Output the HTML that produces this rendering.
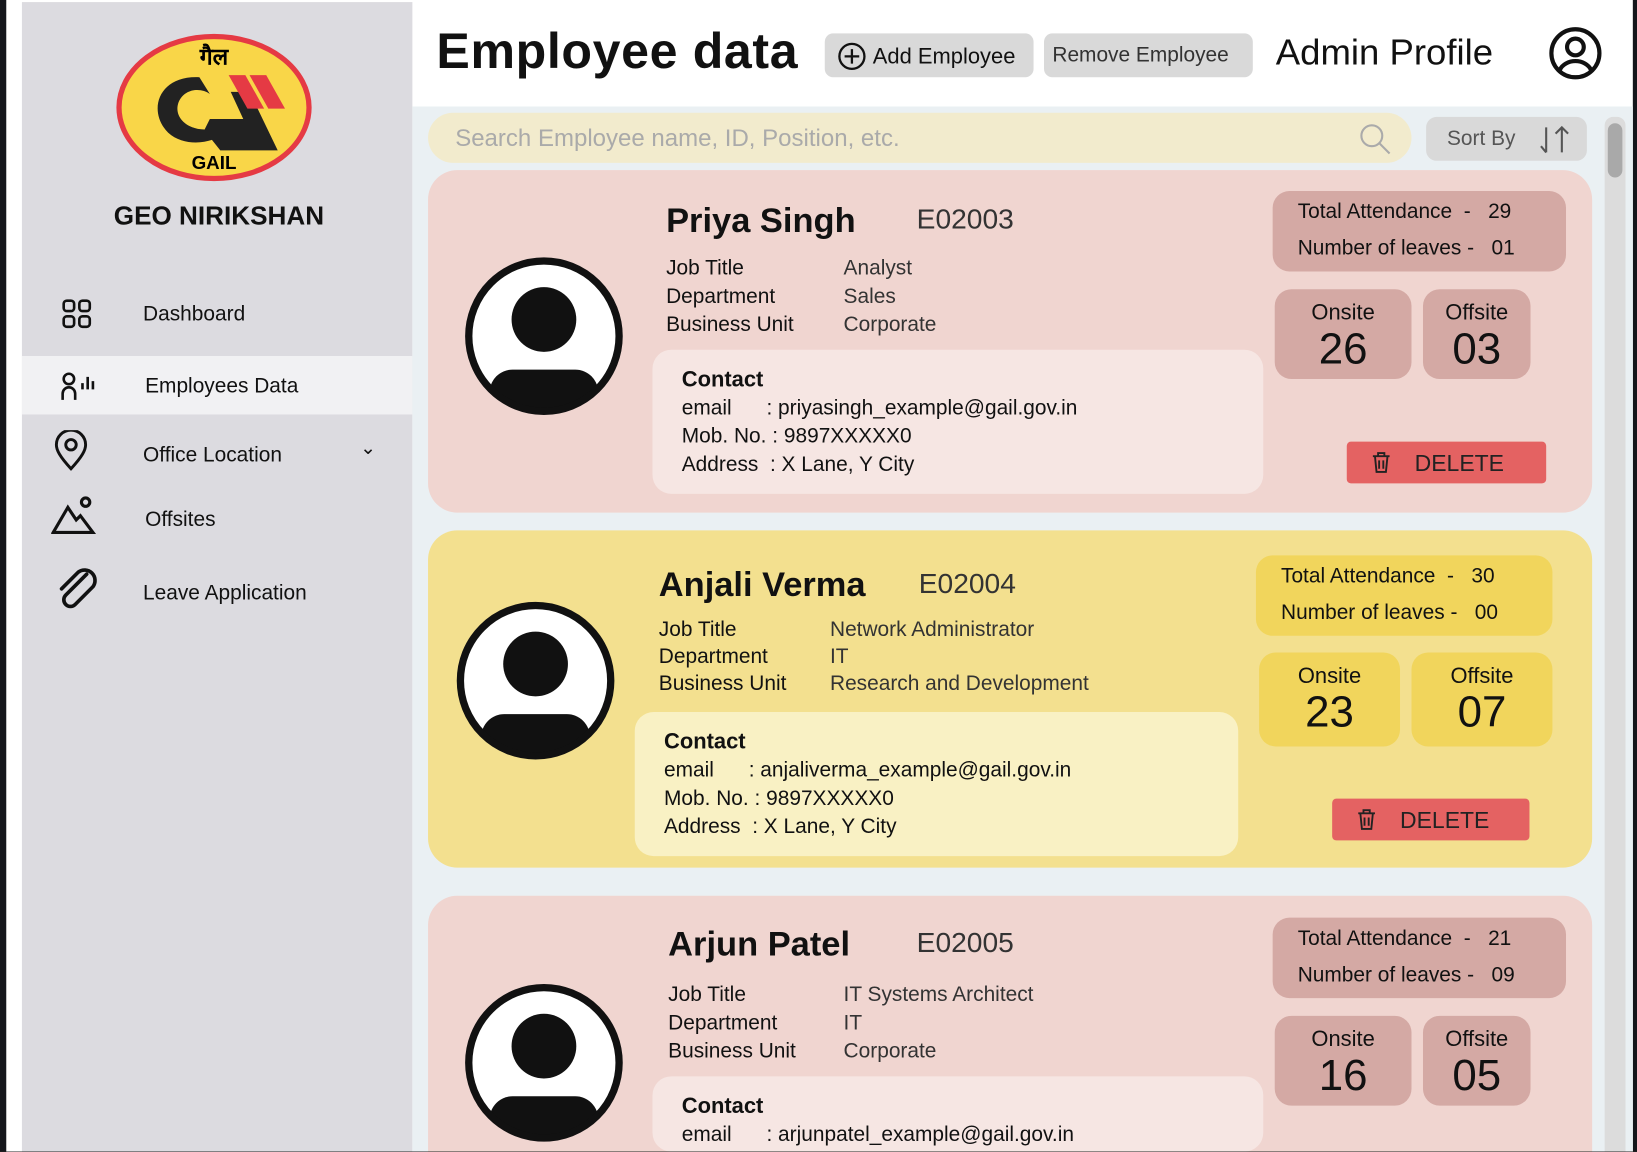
<!DOCTYPE html>
<html><head><meta charset="utf-8">
<style>
html,body{margin:0;padding:0;width:1637px;height:1152px;overflow:hidden;background:#111;}
#stage{position:absolute;left:0;top:0;width:1568px;height:1103px;overflow:hidden;transform:scale(1.04401);transform-origin:0 0;background:#fff;font-family:"Liberation Sans",sans-serif;color:#111;}
.a{position:absolute;}
.t{position:absolute;white-space:nowrap;line-height:1;}
</style></head><body>
<div id="stage">
<div class="a" style="left:0;top:0;width:6px;height:1103px;background:#15161b"></div>
<div class="a" style="left:1564px;top:0;width:4px;height:1103px;background:#15161b"></div>
<!-- sidebar -->
<div class="a" style="left:21px;top:2px;width:374px;height:1101px;background:#dcdbe0">
 <svg class="a" style="left:90px;top:30px" width="190" height="145">
  <ellipse cx="94" cy="71" rx="91" ry="68" fill="#f9d648" stroke="#e53a44" stroke-width="5"/>
  <text x="94" y="30" font-size="22" font-weight="bold" text-anchor="middle" font-family="Liberation Sans, sans-serif">गैल</text>
  <path d="M80 42 C40 40 30 75 50 95 C62 106 80 106 92 102 L100 112 L155 112 L128 56 L110 56 L122 82 L90 82 L85 92 C68 92 55 80 60 66 C66 52 82 52 90 58 Z" fill="#222"/>
  <polygon points="108,40 124,40 142,72 126,72" fill="#e53a44"/><polygon points="128,40 144,40 162,72 146,72" fill="#e53a44"/>
  <text x="94" y="130" font-size="18" font-weight="bold" text-anchor="middle" font-family="Liberation Sans, sans-serif">GAIL</text>
 </svg>
 <div class="t" style="left:88px;top:193px;font-size:25px;font-weight:bold">GEO NIRIKSHAN</div>
 <div class="a" style="left:0;top:339px;width:374px;height:56px;background:#f1f1f3"></div>
 <div class="a" style="left:0;top:270px;width:374px;height:330px">
  <div class="a" style="left:0;top:0;width:374px;height:56px">
   <svg class="a" style="left:38px;top:14px" width="30" height="30"><g fill="none" stroke="#111" stroke-width="2.5"><rect x="2" y="2" width="10" height="10" rx="3"/><rect x="17" y="2" width="10" height="10" rx="3"/><rect x="2" y="17" width="10" height="10" rx="3"/><rect x="17" y="17" width="10" height="10" rx="3"/></g></svg>
   <div class="t" style="left:116px;top:19px;font-size:20px">Dashboard</div></div>
  <div class="a" style="left:0;top:69px;width:374px;height:56px">
   <svg class="a" style="left:36px;top:14px" width="36" height="30"><g fill="none" stroke="#111" stroke-width="2.5"><circle cx="9" cy="8" r="5"/><path d="M3 28 V22 a6 6 0 0 1 12 0 V28"/><path d="M22 12 V18 M27 6 V18 M32 10 V18"/></g></svg>
   <div class="t" style="left:118px;top:19px;font-size:20px">Employees Data</div></div>
  <div class="a" style="left:0;top:134px;width:374px;height:56px">
   <svg class="a" style="left:30px;top:6px" width="34" height="40"><g fill="none" stroke="#111" stroke-width="2.8"><path d="M17 37 C6 25 3 19 3 14 a14 14 0 0 1 28 0 c0 5 -3 11 -14 23z"/><circle cx="17" cy="14" r="5"/></g></svg>
   <div class="t" style="left:116px;top:20px;font-size:20px">Office Location</div>
   <div class="t" style="left:324px;top:14px;font-size:18px">⌄</div></div>
  <div class="a" style="left:0;top:196px;width:374px;height:56px">
   <svg class="a" style="left:28px;top:6px" width="44" height="40"><g fill="none" stroke="#111" stroke-width="3"><path d="M2 36 L16 12 L24 24 L28 20 L40 36 Z"/><circle cx="33" cy="7" r="4"/></g></svg>
   <div class="t" style="left:118px;top:20px;font-size:20px">Offsites</div></div>
  <div class="a" style="left:0;top:266px;width:374px;height:56px">
   <svg class="a" style="left:32px;top:4px" width="44" height="46"><path d="M30 8 L10 28 a6 6 0 0 0 9 9 L36 20 a10 10 0 0 0 -14 -14 L6 22" fill="none" stroke="#111" stroke-width="3.5" stroke-linecap="round"/></svg>
   <div class="t" style="left:116px;top:20px;font-size:20px">Leave Application</div></div>
 </div>
</div>
<!-- header -->
<div class="t" style="left:418px;top:26px;font-size:48px;font-weight:bold;letter-spacing:0.6px">Employee data</div>
<div class="a" style="left:790px;top:32px;width:200px;height:42px;background:#d9d9d9;border-radius:8px">
 <svg class="a" style="left:12px;top:8px" width="28" height="28"><circle cx="14" cy="14" r="12" fill="none" stroke="#111" stroke-width="2.2"/><path d="M14 7v14M7 14h14" stroke="#111" stroke-width="2.2"/></svg>
 <div class="t" style="left:46px;top:12px;font-size:21px">Add Employee</div></div>
<div class="a" style="left:1000px;top:32px;width:200px;height:42px;background:#d9d9d9;border-radius:8px">
 <div class="t" style="left:8px;top:11px;font-size:20px;color:#333">Remove Employee</div></div>
<div class="t" style="left:1222px;top:33px;font-size:35px">Admin Profile</div>
<svg class="a" style="left:1482px;top:24px" width="54" height="54"><circle cx="27" cy="27" r="23" fill="none" stroke="#111" stroke-width="4"/><circle cx="27" cy="21" r="8" fill="none" stroke="#111" stroke-width="4"/><path d="M12 43 a16 13 0 0 1 30 0" fill="none" stroke="#111" stroke-width="4"/></svg>
<!-- content bg -->
<div class="a" style="left:395px;top:102px;width:1169px;height:1001px;background:#eaf0f3"></div>
<div class="a" style="left:410px;top:108px;width:942px;height:48px;background:#f2ebcd;border-radius:24px">
 <div class="t" style="left:26px;top:13px;font-size:23px;color:#aaa">Search Employee name, ID, Position, etc.</div>
 <svg class="a" style="left:890px;top:8px" width="34" height="34"><circle cx="14" cy="14" r="10" fill="none" stroke="#aaa" stroke-width="2"/><path d="M21 21l10 10" stroke="#aaa" stroke-width="2"/></svg></div>
<div class="a" style="left:1366px;top:112px;width:154px;height:42px;background:#d9d9d9;border-radius:10px">
 <div class="t" style="left:20px;top:11px;font-size:20px;color:#555">Sort By</div>
 <svg class="a" style="left:106px;top:6px" width="32" height="32"><path d="M9 4v24M4 22l5 6M24 28V4M18 10l6-6 6 6" fill="none" stroke="#555" stroke-width="2"/></svg></div>
<div class="a" style="left:1537px;top:112px;width:20px;height:991px;background:#dcdcdc;border-radius:8px 8px 0 0"></div>
<div class="a" style="left:1540px;top:118px;width:14px;height:52px;background:#a9a9a9;border-radius:7px"></div>
<div id="cards"></div>
</div>
<script>
const employees=[
 {name:"Priya Singh",id:"E02003",job:"Analyst",dept:"Sales",unit:"Corporate",email:"priyasingh_example@gail.gov.in",att:"29",leaves:"01",on:"26",off:"03"},
 {name:"Anjali Verma",id:"E02004",job:"Network Administrator",dept:"IT",unit:"Research and Development",email:"anjaliverma_example@gail.gov.in",att:"30",leaves:"00",on:"23",off:"07"},
 {name:"Arjun Patel",id:"E02005",job:"IT Systems Architect",dept:"IT",unit:"Corporate",email:"arjunpatel_example@gail.gov.in",att:"21",leaves:"09",on:"16",off:"05"}];
const cardTops=[163,508,858];
const themes=[
 {bg:"#f0d5d0",box:"#d4a9a4",contact:"#f6e6e3",L:{av:[521,159],name:[638,28],id:878,rows:[94,121,148],val:808,ct:[625,172,585,138],att:[1219,20,281,77],on:[1221,114,131,86],off:[1363,114,103,86],del:[1290,260,191,40]}},
 {bg:"#f3e08f",box:"#f1d55c",contact:"#f9f1c4",L:{av:[513,144],name:[631,32],id:880,rows:[95,121,147],val:795,ct:[608,174,578,138],att:[1203,24,284,77],on:[1206,117,135,90],off:[1352,117,135,90],del:[1276,257,189,40]}},
 {bg:"#f0d5d0",box:"#d4a9a4",contact:"#f6e6e3",L:{av:[521,160],name:[640,26],id:878,rows:[95,122,149],val:808,ct:[625,173,585,138],att:[1219,21,281,77],on:[1221,115,131,86],off:[1363,115,103,86],del:[1290,260,191,40]}}];
const root=document.getElementById('cards');
function el(tag,style,html,parent){const e=document.createElement(tag);e.className='a';e.style.cssText='line-height:1;'+style;if(html!=null)e.innerHTML=html;(parent||root).appendChild(e);return e;}
employees.forEach((emp,i)=>{
 const top=cardTops[i],th=themes[i],L=th.L;
 const h=i===2?245:(i===0?328:323);
 const rad=i===2?'28px 28px 0 0':'28px';
 const c=el('div',`left:410px;top:${top}px;width:1115px;height:${h}px;background:${th.bg};border-radius:${rad};overflow:hidden`);
 
 
 const o=(x)=>x-410;
 const av=el('div',`left:${o(L.av[0])-78}px;top:${L.av[1]-78}px;width:156px;height:156px`,`<svg width="156" height="156"><defs><clipPath id="cp${i}"><circle cx="78" cy="78" r="72"/></clipPath></defs><circle cx="78" cy="78" r="72" fill="#fff"/><g clip-path="url(#cp${i})"><circle cx="78" cy="62" r="31" fill="#111"/><rect x="26" y="110" width="104" height="60" rx="22" fill="#111"/></g><circle cx="78" cy="78" r="72" fill="none" stroke="#111" stroke-width="7"/></svg>`,c);
 
 
 const nm=el('div',`left:${o(L.name[0])}px;top:${L.name[1]+3}px;font-size:33px;font-weight:bold;white-space:nowrap`,emp.name,c);
 
 
 const idd=el('div',`left:${o(L.id)}px;top:${L.name[1]+6}px;font-size:27px;color:#333;white-space:nowrap`,emp.id,c);
 
 
 const labels=["Job Title","Department","Business Unit"],vals=[emp.job,emp.dept,emp.unit];
 labels.forEach((lb,k)=>{
  const a=el('div',`left:${o(L.name[0])}px;top:${L.rows[k]-10}px;font-size:20px;white-space:nowrap`,lb,c);
  
  
  const b=el('div',`left:${o(L.val)}px;top:${L.rows[k]-10}px;font-size:20px;color:#333;white-space:nowrap`,vals[k],c);
  
  
 });
 const ct=el('div',`left:${o(L.ct[0])}px;top:${L.ct[1]}px;width:${L.ct[2]}px;height:${Math.min(L.ct[3],h-L.ct[1])}px;background:${th.contact};border-radius:18px;overflow:hidden`,
  `<div class="t" style="left:28px;top:18px;font-size:21px;font-weight:bold">Contact</div>
   <div class="t" style="left:28px;top:46px;font-size:20px">email&nbsp;&nbsp;&nbsp;&nbsp;&nbsp;&nbsp;: ${emp.email}</div>
   <div class="t" style="left:28px;top:73px;font-size:20px">Mob. No. : 9897XXXXX0</div>
   <div class="t" style="left:28px;top:100px;font-size:20px">Address&nbsp; : X Lane, Y City</div>`,c);
 
 
 const at=el('div',`left:${o(L.att[0])}px;top:${L.att[1]}px;width:${L.att[2]}px;height:${L.att[3]}px;background:${th.box};border-radius:16px`,
  `<div class="t" style="left:24px;top:10px;font-size:20px">Total Attendance&nbsp; -&nbsp;&nbsp; ${emp.att}</div>
   <div class="t" style="left:24px;top:45px;font-size:20px">Number of leaves -&nbsp;&nbsp; ${emp.leaves}</div>`,c);
 
 
 [[L.on,"Onsite",emp.on,'onsite-count'],[L.off,"Offsite",emp.off,'offsite-count']].forEach(([b,lab,v,n])=>{
  const bx=el('div',`left:${o(b[0])}px;top:${b[1]}px;width:${b[2]}px;height:${b[3]}px;background:${th.box};border-radius:16px;text-align:center`,
   `<div style="font-size:21px;margin-top:12px;line-height:1">${lab}</div><div style="font-size:42px;line-height:1;margin-top:3px">${v}</div>`,c);
  
  
 });
 if(L.del[1]+L.del[3]<=h){
 const d=el('div',`left:${o(L.del[0])}px;top:${L.del[1]}px;width:${L.del[2]}px;height:${L.del[3]}px;background:#e46262;border-radius:4px`,
  `<svg class="a" style="left:22px;top:9px" width="22" height="22"><path d="M3 5h16M8 5V2h6v3M5 5l1.5 15h9L17 5M9 9v8M13 9v8" fill="none" stroke="#222" stroke-width="1.8"/></svg><div class="t" style="left:65px;top:10px;font-size:22px;color:#222">DELETE</div>`,c);
 
 
 }
});
</script>
</body></html>
